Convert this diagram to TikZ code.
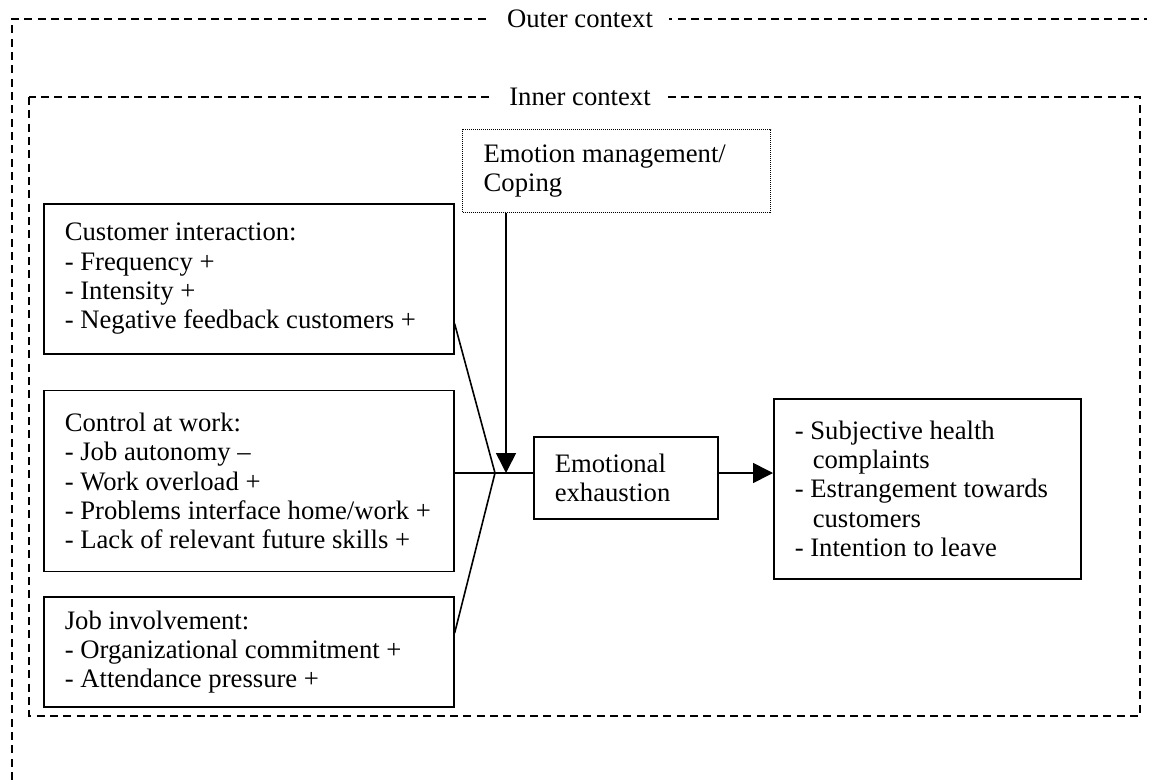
\documentclass[tikz,border=0pt]{standalone}
\usepackage{fontspec}
\setmainfont{Liberation Serif}
\usetikzlibrary{positioning}
\usetikzlibrary{calc}
\usetikzlibrary{arrows.meta}

\tikzset{
  factor/.style={rectangle, draw, line width=1.2pt, anchor=north west, align=flush left,
    inner xsep=15.75pt, inner ysep=4pt, font=\fontsize{20}{22}\selectfont},
  frame/.style={line width=0.8pt, dash pattern=on 6pt off 4pt},
  flow/.style={line width=1.2pt},
  head/.style={flow, -{Triangle[length=15pt,width=15pt]}},
  ctxlabel/.style={fill=white, inner xsep=12pt, font=\fontsize{20}{22}\selectfont}
}

\begin{document}
\begin{tikzpicture}[x=0.75pt, y=-0.75pt]
    \useasboundingbox (0,0) rectangle (1151,780);
    % outer and inner context
    \draw[frame] (12,780) -- (12,19) -- (1147,19);
    \draw[frame] (29,97) rectangle (1140,716);
    \node[ctxlabel] (outer) at (580,19) {Outer context};
    \node[ctxlabel] (inner) at (580,97) {Inner context};

    % antecedents
    \node[factor, minimum width=307.5pt, minimum height=112.5pt, text width=276pt] (cust) at (43,203)
      {Customer interaction:\\- Frequency +\\- Intensity +\\- Negative feedback customers +};
    \node[factor, minimum width=307.5pt, minimum height=135.75pt, text width=276pt,
      below=26.25pt of cust.south west, anchor=north west] (ctrl)
      {Control at work:\\- Job autonomy --\\- Work overload +\\- Problems interface home/work +\\- Lack of relevant future skills +};
    \node[factor, minimum width=307.5pt, minimum height=82.5pt, text width=276pt,
      below=18pt of ctrl.south west, anchor=north west] (job)
      {Job involvement:\\- Organizational commitment +\\- Attendance pressure +};

    % moderator, strain and outcomes
    \node[factor, line width=1pt, dash pattern=on 0.75pt off 0.75pt, minimum width=231pt, minimum height=62.25pt,
      text width=199.5pt] (emo) at (462,129) {Emotion management/\\Coping};
    \node[factor, minimum width=138pt, minimum height=61.5pt, text width=106.5pt] (ee) at (533,436)
      {Emotional\\exhaustion};
    \node[factor, minimum width=230.25pt, minimum height=135pt, text width=198.75pt] (out) at (773,398)
      {- Subjective health\\\hspace*{13.5pt}complaints\\- Estrangement towards\\\hspace*{13.5pt}customers\\- Intention to leave};

    \coordinate (join) at (495,473);
    \coordinate (hit) at (506,473);

    \draw[flow] ($(cust.south east)+(0,-31)$) -- (join) -- ($(job.north east)+(0,37)$);
    \draw[flow] (ctrl.east |- join) -- (ee.west |- join);
    \draw[head] (emo.south -| hit) -- (hit);
    \draw[head] (ee.east |- hit) -- (out.west |- hit);
\end{tikzpicture}
\end{document}
